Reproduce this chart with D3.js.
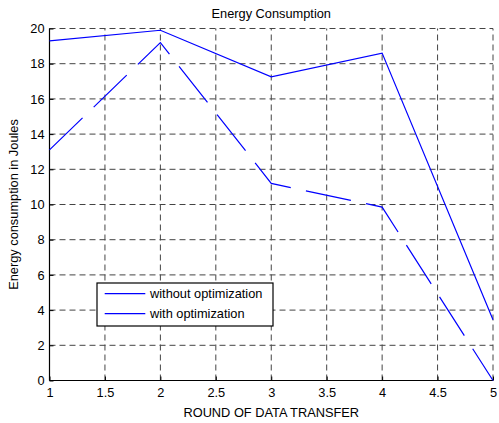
<!DOCTYPE html>
<html><head><meta charset="utf-8">
<script src="https://cdn.jsdelivr.net/npm/d3@7"></script>
<style>body{margin:0;background:#fff;} text{font-family:"Liberation Sans",Arial,sans-serif;fill:#000;}</style>
</head><body><svg id="c" width="499" height="423"></svg>
<script>
const rounds = [1, 2, 3, 4, 5];
const withoutOpt = [19.3, 19.9, 17.25, 18.6, 3.45];
const withOpt = [13.1, 19.2, 11.2, 9.85, 0];
const xTicks = [1, 1.5, 2, 2.5, 3, 3.5, 4, 4.5, 5];
const yTicks = [0, 2, 4, 6, 8, 10, 12, 14, 16, 18, 20];
const seriesNames = ["without optimization", "with optimization"];

const FS = 12.8;
const svg = d3.select("#c");
const L = 49.5, R = 493, T = 28.5, B = 380.5;
const x = d3.scaleLinear().domain([1, 5]).range([L, R]);
const y = d3.scaleLinear().domain([0, 20]).range([B, T]);

// grid
const g = svg.append("g");
g.selectAll(".vg").data(xTicks).join("line")
  .attr("x1", d => x(d)).attr("x2", d => x(d)).attr("y1", B).attr("y2", T)
  .attr("stroke", "#444").attr("stroke-width", 1).attr("stroke-dasharray", "6,4");
g.selectAll(".hg").data(yTicks).join("line")
  .attr("y1", d => y(d)).attr("y2", d => y(d)).attr("x1", L).attr("x2", R)
  .attr("stroke", "#444").attr("stroke-width", 1).attr("stroke-dasharray", "6,4");

// axes
const xAxis = d3.axisBottom(x).tickValues(xTicks).tickSize(-4).tickPadding(7).tickFormat(d3.format("~g"));
const yAxis = d3.axisLeft(y).tickValues(yTicks).tickSize(-4).tickPadding(5);
const xa = svg.append("g").attr("transform", `translate(0,${B})`).call(xAxis);
const ya = svg.append("g").attr("transform", `translate(${L},0)`).call(yAxis);
[xa, ya].forEach(a => {
  a.select(".domain").attr("stroke", "#000").attr("stroke-width", 1.2);
  a.selectAll(".tick line").attr("stroke", "#000");
  a.selectAll("text").attr("font-size", FS).attr("font-family", '"Liberation Sans",Arial,sans-serif').attr("fill", "#000");
});
xa.select(".domain").attr("d", `M${L},0H${R}`);
ya.select(".domain").attr("d", `M0,${B}V${T}`);

// lines
const line = d3.line().x((d, i) => x(rounds[i])).y(d => y(d));
svg.append("path").datum(withoutOpt).attr("d", line)
  .attr("fill", "none").attr("stroke", "#0000ff").attr("stroke-width", 1.2);
svg.append("path").datum(withOpt).attr("d", line)
  .attr("fill", "none").attr("stroke", "#0000ff").attr("stroke-width", 1.2)
  .attr("stroke-dasharray", "46,15.5");

// title and labels
svg.append("text").attr("x", (L + R) / 2).attr("y", 18).attr("text-anchor", "middle")
  .attr("font-size", FS).text("Energy Consumption");
svg.append("text").attr("x", (L + R) / 2).attr("y", 417).attr("text-anchor", "middle")
  .attr("font-size", FS).text("ROUND OF DATA TRANSFER");
svg.append("text").attr("transform", `translate(17.5,${(T + B) / 2}) rotate(-90)`).attr("text-anchor", "middle")
  .attr("font-size", FS).text("Energy consumption in Joules");

// legend
const lg = svg.append("g");
lg.append("rect").attr("x", 97).attr("y", 283).attr("width", 176).attr("height", 43)
  .attr("fill", "#fff").attr("stroke", "#000").attr("stroke-width", 1.2);
seriesNames.forEach((n, i) => {
  const yy = 293.7 + i * 20;
  lg.append("line").attr("x1", 104.7).attr("x2", 145.3).attr("y1", yy).attr("y2", yy)
    .attr("stroke", "#0000ff").attr("stroke-width", 1.2);
  lg.append("text").attr("x", 150).attr("y", yy + 4.5).attr("font-size", FS).text(n);
});
</script></body></html>
